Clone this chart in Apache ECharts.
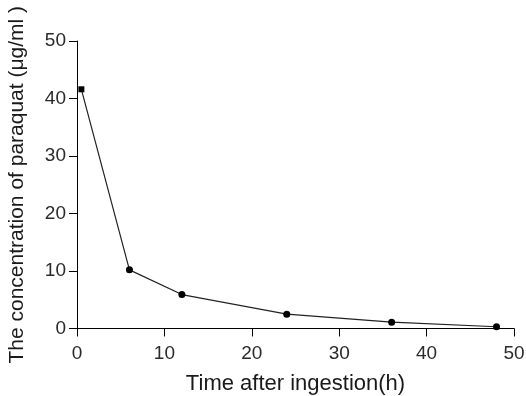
<!DOCTYPE html>
<html><head><meta charset="utf-8">
<script src="https://cdn.jsdelivr.net/npm/echarts@6/dist/echarts.min.js"></script>
<style>html,body{margin:0;padding:0;background:#fff}#c{width:526px;height:396px}</style>
</head><body><div id="c"></div>
<script>
const timeHours = [0.5, 6, 12, 24, 36, 48];
const concentration = [41.6, 10.2, 5.9, 2.5, 1.1, 0.3];
const xTicks = [0, 10, 20, 30, 40, 50];
const yTicks = [0, 10, 20, 30, 40, 50];
const markerSymbols = ['rect', 'circle', 'circle', 'circle', 'circle', 'circle'];

const chart = echarts.init(document.getElementById('c'), null, {renderer: 'canvas'});
const font = 'Liberation Sans, Arial, sans-serif';
const axisCommon = {
  axisLine: {show: true, lineStyle: {color: '#000', width: 1}},
  axisTick: {show: true, inside: false, length: 8, lineStyle: {color: '#000'}},
  splitLine: {show: false},
  axisLabel: {color: '#2a2a2a', fontSize: 19, fontFamily: font},
  nameTextStyle: {color: '#1a1a1a', fontSize: 21, fontFamily: font},
  nameLocation: 'middle'
};
chart.setOption({
  animation: false,
  backgroundColor: '#fff',
  grid: {left: 77, right: 12, top: 41, bottom: 67.5, containLabel: false, outerBoundsMode: 'none'},
  xAxis: Object.assign({}, axisCommon, {
    type: 'value', min: xTicks[0], max: xTicks[xTicks.length - 1], interval: 10,
    name: 'Time after ingestion(h)', nameGap: 44,
    nameTextStyle: Object.assign({}, axisCommon.nameTextStyle, {fontSize: 22}),
    axisLabel: Object.assign({}, axisCommon.axisLabel, {margin: 16})
  }),
  yAxis: Object.assign({}, axisCommon, {
    type: 'value', min: yTicks[0], max: yTicks[yTicks.length - 1], interval: 10,
    name: 'The concentration of paraquat (μg/ml )', nameGap: 49,
    axisLabel: Object.assign({}, axisCommon.axisLabel, {margin: 11})
  }),
  series: [{
    type: 'line',
    data: timeHours.map((t, i) => ({value: [t, concentration[i]], symbol: markerSymbols[i], symbolSize: markerSymbols[i] === 'rect' ? 6 : 7})),
    lineStyle: {color: '#222', width: 1.2},
    itemStyle: {color: '#000'},
    showSymbol: true
  }]
});
</script></body></html>
